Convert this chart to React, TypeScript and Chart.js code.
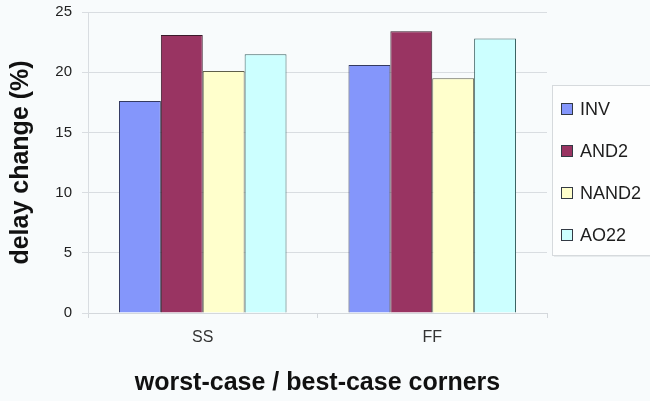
import React, { useEffect, useRef } from "react";
import { Chart, registerables } from "chart.js";

Chart.register(...registerables);

const categories = ["SS", "FF"];
const seriesNames = ["INV", "AND2", "NAND2", "AO22"];
const invValues = [17.6, 20.6];
const and2Values = [23.1, 23.4];
const nand2Values = [20.1, 19.5];
const ao22Values = [21.5, 22.8];
const yTicks = [0, 5, 10, 15, 20, 25];
const yTitle = "delay change (%)";
const xTitle = "worst-case / best-case corners";

const fills = ["#8496fb", "#993462", "#ffffcc", "#ccffff"];
const borders = ["#343a60", "#3a1a2a", "#5f5f4a", "#3a6262"];

const legendPlugin = {
  id: "boxLegend",
  afterDraw(chart: any) {
    const ctx = chart.ctx;
    const x0 = 552;
    const y0 = 85;
    ctx.save();
    ctx.fillStyle = "rgba(200,205,210,0.35)";
    ctx.fillRect(x0 + 2, y0 + 2, 110, 170);
    ctx.fillStyle = "#fdfefe";
    ctx.fillRect(x0, y0, 110, 170);
    ctx.strokeStyle = "#d6dadd";
    ctx.lineWidth = 1;
    ctx.strokeRect(x0 + 0.5, y0 + 0.5, 110, 170);
    chart.data.datasets.forEach((ds: any, i: number) => {
      const cy = y0 + 24 + i * 42;
      ctx.fillStyle = ds.backgroundColor;
      ctx.fillRect(561, cy - 6, 12, 12);
      ctx.strokeStyle = "#333a44";
      ctx.strokeRect(561.5, cy - 5.5, 11, 11);
      ctx.fillStyle = "#1e1e1e";
      ctx.font = "18px 'Liberation Sans', Arial, sans-serif";
      ctx.textBaseline = "middle";
      ctx.textAlign = "left";
      ctx.fillText(ds.label, 580, cy + 1);
    });
    ctx.restore();
  },
};

export default function App() {
  const ref = useRef<HTMLCanvasElement>(null);
  useEffect(() => {
    if (!ref.current) return;
    const seriesValues = [invValues, and2Values, nand2Values, ao22Values];
    const chart = new Chart(ref.current, {
      type: "bar",
      data: {
        labels: categories,
        datasets: seriesNames.map((name, i) => ({
          label: name,
          data: seriesValues[i],
          backgroundColor: fills[i],
          borderColor: borders[i],
          borderWidth: 1,
          barPercentage: 1,
          categoryPercentage: 0.73,
        })),
      },
      options: {
        responsive: false,
        animation: false,
        layout: { padding: { top: 12, right: 103, left: 0, bottom: 0 } },
        plugins: {
          legend: { display: false },
          tooltip: { enabled: false },
        },
        scales: {
          x: {
            grid: {
              offset: true,
              drawOnChartArea: false,
              drawTicks: true,
              tickLength: 5,
              color: "#d4d8dc",
            },
            border: { color: "#d4d8dc" },
            ticks: {
              color: "#333",
              font: { family: "'Liberation Sans', Arial, sans-serif", size: 16 },
              padding: 10,
            },
            title: {
              display: true,
              text: xTitle,
              color: "#111",
              font: { family: "'Liberation Sans', Arial, sans-serif", size: 25, weight: "bold" },
              padding: { top: 0, bottom: 3 },
            },
            afterFit(scale: any) {
              scale.height = 88;
            },
          },
          y: {
            min: 0,
            max: 25,
            afterBuildTicks(scale: any) {
              scale.ticks = yTicks.map((v) => ({ value: v }));
            },
            grid: {
              color: "#d9dde1",
              tickLength: 6,
            },
            border: { color: "#d9dde1" },
            ticks: {
              color: "#222",
              font: { family: "'Liberation Sans', Arial, sans-serif", size: 15 },
              padding: 10,
            },
            title: {
              display: true,
              text: yTitle,
              color: "#111",
              font: { family: "'Liberation Sans', Arial, sans-serif", size: 25, weight: "bold" },
              padding: { top: 6, bottom: 0 },
            },
            afterFit(scale: any) {
              scale.width = 88;
              scale.paddingTop = 0;
              scale.paddingBottom = 0;
            },
          },
        },
      },
      plugins: [legendPlugin],
    });
    return () => chart.destroy();
  }, []);
  return (
    <div
      style={{
        position: "fixed",
        left: 0,
        top: 0,
        width: 650,
        height: 401,
        background: "#f8fbfc",
      }}
    >
      <canvas ref={ref} width={650} height={401} />
    </div>
  );
}
